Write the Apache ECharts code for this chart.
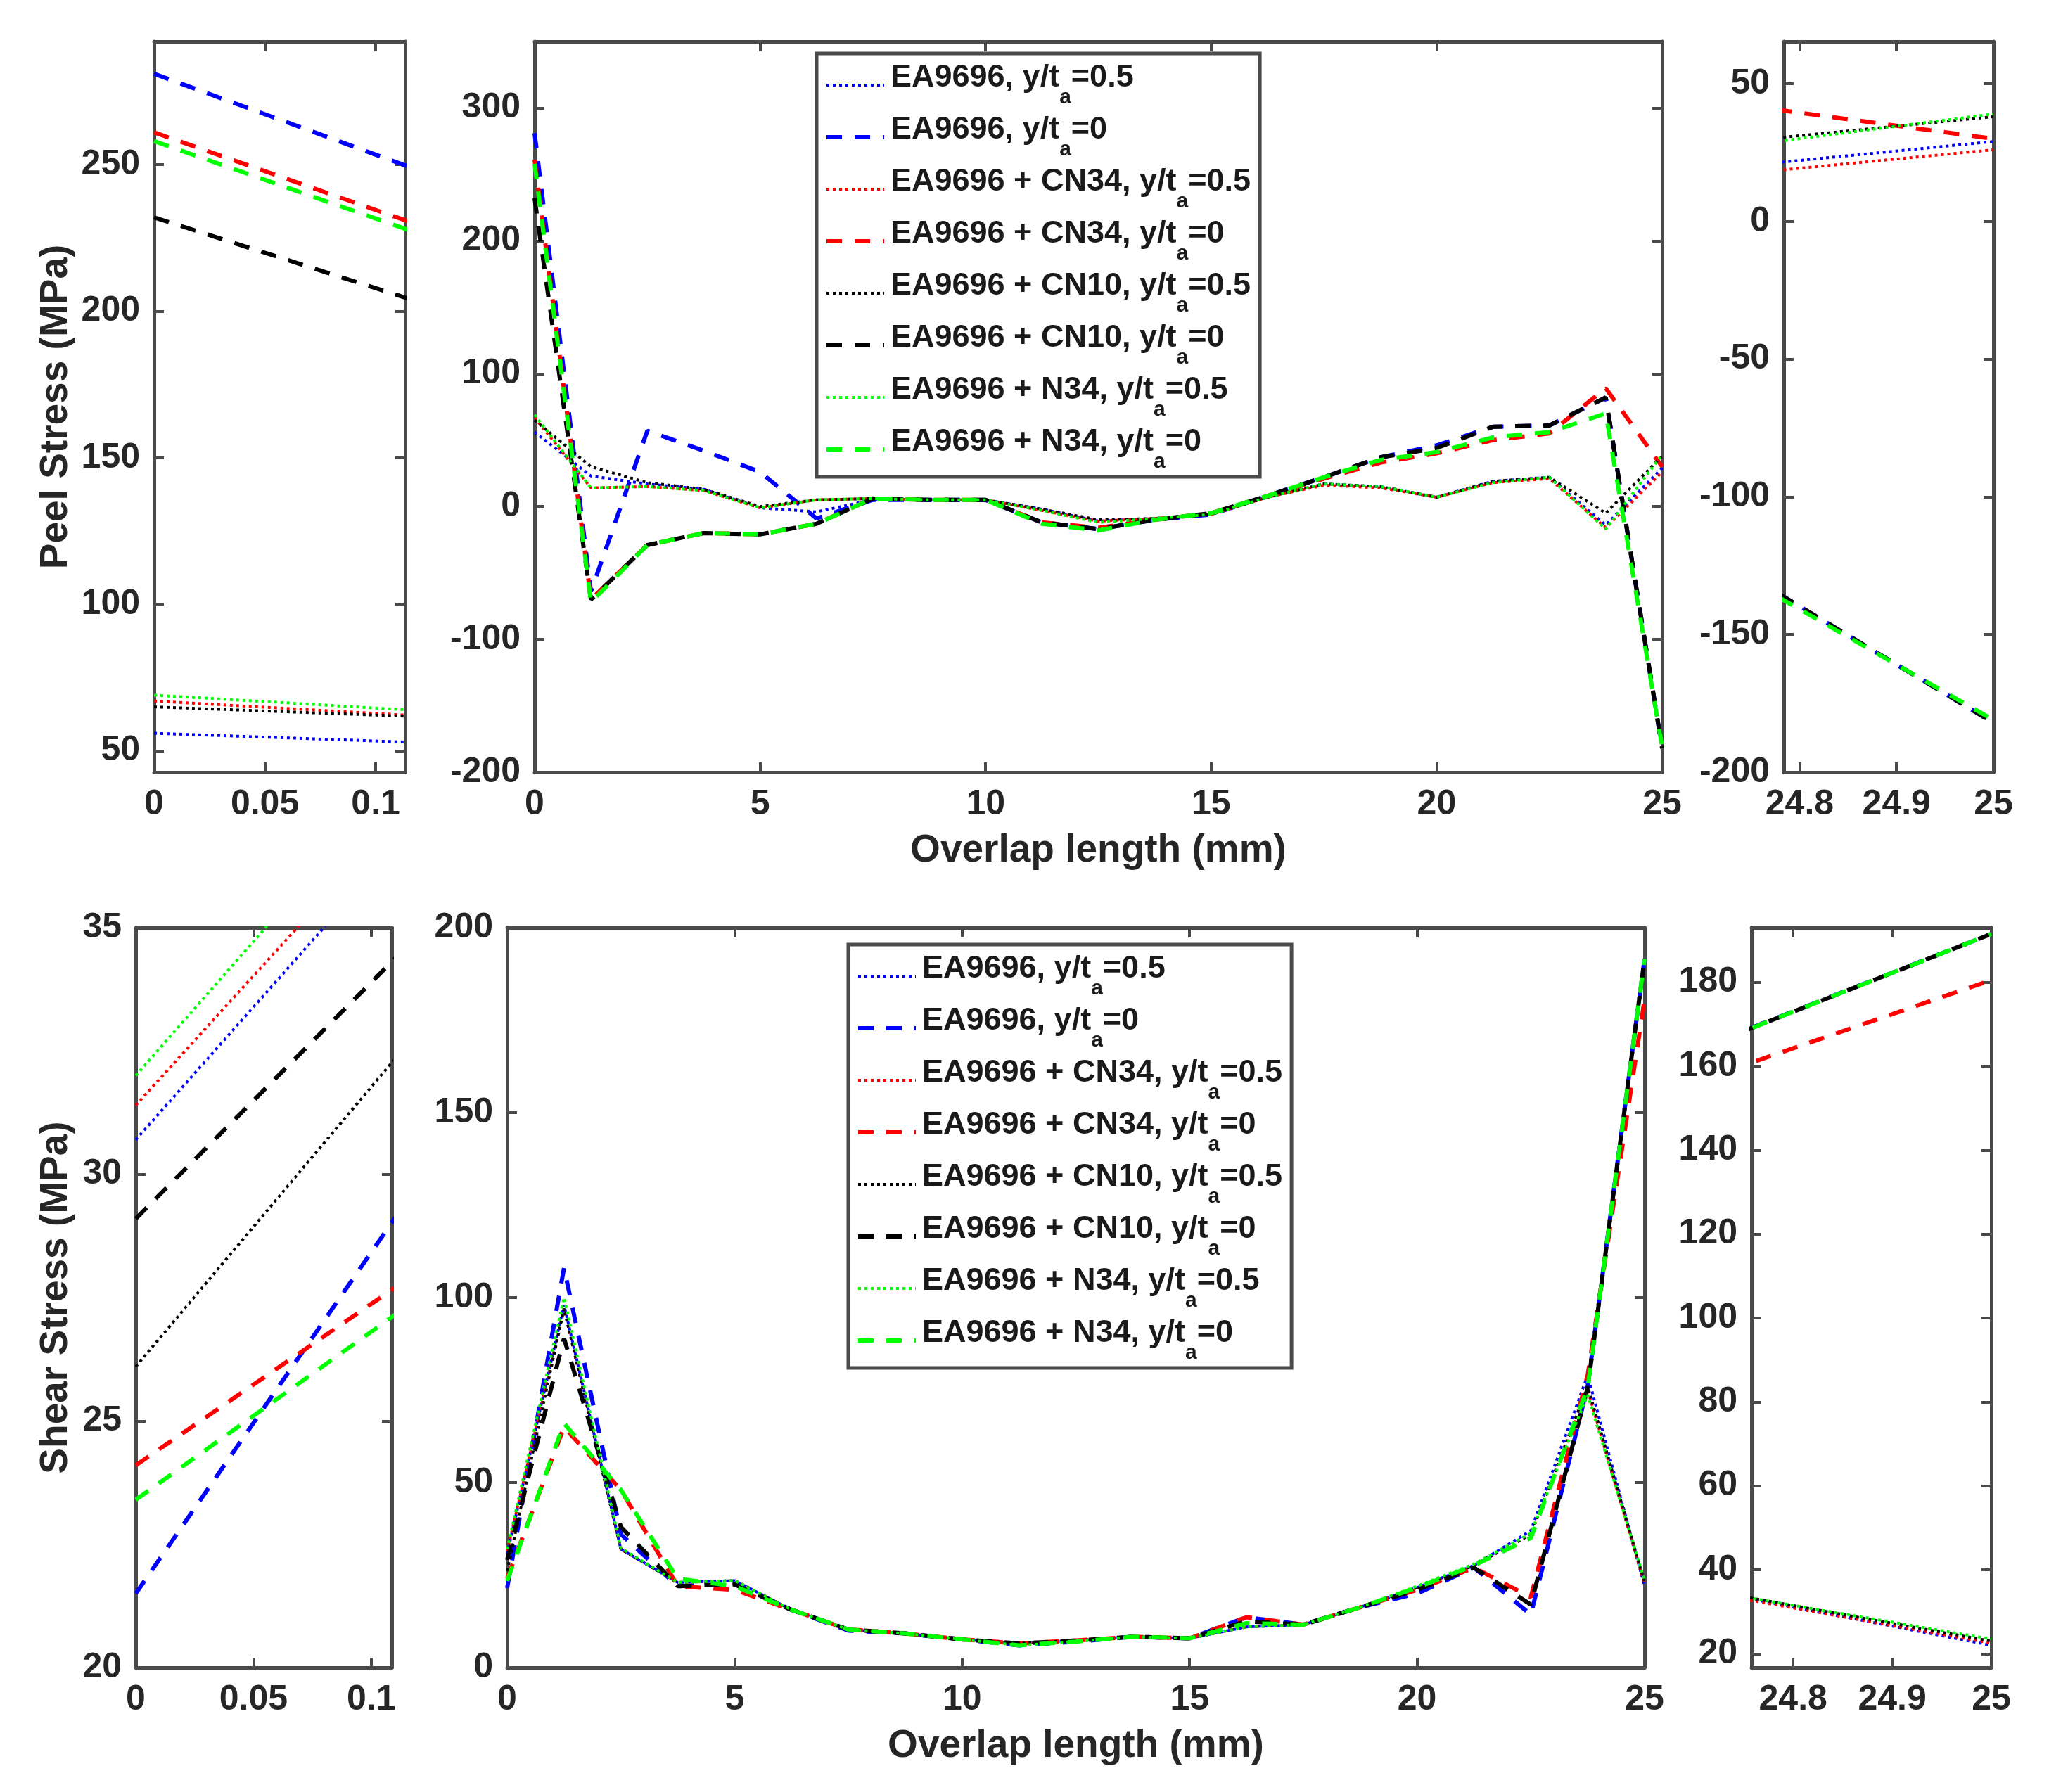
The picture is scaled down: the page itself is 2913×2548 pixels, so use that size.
<!DOCTYPE html>
<html>
<head>
<meta charset="utf-8">
<script src="https://cdn.jsdelivr.net/npm/echarts@6/dist/echarts.min.js"></script>
<style>
  html, body { margin: 0; padding: 0; background: #fff; }
  #stress { width: 2913px; height: 2548px; }
</style>
</head>
<body>
<div id="stress"></div>
<script>
// nodes along the overlap (mm)
const xNodes = [0, 1.25, 2.5, 3.75, 5, 6.25, 7.5, 8.75, 10, 11.25, 12.5, 13.75, 15, 16.25, 17.5, 18.75, 20, 21.25, 22.5, 23.75, 25]

const seriesNames = [
  'EA9696, y/ta=0.5', 'EA9696, y/ta=0',
  'EA9696 + CN34, y/ta=0.5', 'EA9696 + CN34, y/ta=0',
  'EA9696 + CN10, y/ta=0.5', 'EA9696 + CN10, y/ta=0',
  'EA9696 + N34, y/ta=0.5', 'EA9696 + N34, y/ta=0'
]
const labelHead = ['EA9696, y/t', 'EA9696, y/t', 'EA9696 + CN34, y/t', 'EA9696 + CN34, y/t',
  'EA9696 + CN10, y/t', 'EA9696 + CN10, y/t', 'EA9696 + N34, y/t', 'EA9696 + N34, y/t']
const labelTail = ['=0.5', '=0', '=0.5', '=0', '=0.5', '=0', '=0.5', '=0']
const seriesColors = ['#0000ff', '#0000ff', '#ff0000', '#ff0000', '#000000', '#000000', '#00ff00', '#00ff00']
const seriesDash = ['dot', 'dash', 'dot', 'dash', 'dot', 'dash', 'dot', 'dash']

// peel stress (MPa)
const peelBlueDot   = [56, 23, 17, 13, -1, -4, 5, 5, 5, -2, -11, -9, -6, 7, 17, 15, 7, 19, 22, -14, 29]
const peelBlueDash  = [281, -64, 57, 42, 26, -9, 5, 5, 5, -12, -17, -10, -6, 8, 22, 37, 46, 60, 61, 82, -182]
const peelRedDot    = [67, 14, 15, 12, -1, 5, 6, 5, 5, -3, -11, -9, -6, 7, 16, 14, 7, 18, 21, -16, 26]
const peelRedDash   = [261, -70, -29, -20, -21, -13, 6, 5, 5, -12, -16, -10, -5, 8, 21, 33, 40, 50, 55, 89, 30]
const peelBlackDot  = [65, 30, 18, 13, 0, 5, 6, 5, 5, -2, -10, -9, -6, 7, 17, 15, 7, 19, 22, -5, 38]
const peelBlackDash = [232, -70, -29, -20, -21, -13, 6, 5, 5, -12, -17, -10, -5, 8, 22, 37, 44, 60, 61, 82, -182]
const peelGreenDot  = [69, 14, 15, 12, -1, 5, 6, 5, 5, -3, -12, -9, -6, 7, 17, 15, 7, 18, 22, -17, 39]
const peelGreenDash = [258, -72, -29, -20, -21, -13, 6, 5, 5, -13, -18, -10, -5, 8, 22, 35, 41, 52, 56, 70, -181]

// shear stress (MPa)
const shearBlueDot   = [30.7, 98, 32, 23, 23.5, 15.6, 10.3, 9.2, 7.6, 6.5, 7.3, 8.3, 7.9, 11, 11.6, 16.3, 21.6, 27.6, 37, 79, 22]
const shearBlueDash  = [21.5, 108, 36, 22, 22.5, 15.6, 10, 9.2, 7.6, 6, 7, 8.3, 7.9, 13.6, 11.6, 16.3, 20, 27, 14.3, 76, 191.5]
const shearRedDot    = [31.4, 97, 32, 23, 23.5, 15.6, 10.3, 9.2, 7.6, 6.5, 7.3, 8.3, 7.9, 11, 11.6, 16.3, 21.6, 27.6, 36, 75, 22.5]
const shearRedDash   = [24.1, 65, 48, 22, 21, 15.6, 10.3, 9.2, 7.6, 6.5, 7.3, 8.3, 7.9, 13.6, 11.6, 16.3, 21, 27, 19, 79, 180.5]
const shearBlackDot  = [26.1, 97, 32, 23, 23.5, 15.6, 10.3, 9.2, 7.6, 6.5, 7.3, 8.3, 7.9, 11, 11.6, 16.3, 21.6, 27.6, 36, 76, 23]
const shearBlackDash = [29.1, 89, 38, 22, 22.5, 15.6, 10.3, 9.2, 7.6, 6.5, 7.3, 8.3, 7.9, 12.5, 11.6, 16.3, 21, 27, 17, 75.6, 191.5]
const shearGreenDot  = [32, 100, 32.3, 23, 23.5, 15.6, 10.3, 9.2, 7.6, 6, 7, 8.3, 7.9, 11, 11.6, 16.3, 22, 28, 36.3, 73.7, 23.5]
const shearGreenDash = [23.4, 66, 48, 24, 22, 15.6, 10.3, 9.2, 7.6, 6, 7, 8.3, 7.9, 12, 11.6, 16.3, 21.6, 27.6, 35, 75.6, 191.5]

// tick labels
const insetLeftTicks = [0, 0.05, 0.1]
const insetRightTicks = [24.8, 24.9, 25]
const mainXTicks = [0, 5, 10, 15, 20, 25]
const peelLeftYTicks = [50, 100, 150, 200, 250]
const peelMainYTicks = [-200, -100, 0, 100, 200, 300]
const peelRightYTicks = [-200, -150, -100, -50, 0, 50]
const shearLeftYTicks = [20, 25, 30, 35]
const shearMainYTicks = [0, 50, 100, 150, 200]
const shearRightYTicks = [20, 40, 60, 80, 100, 120, 140, 160, 180]

const peelSets = [peelBlueDot, peelBlueDash, peelRedDot, peelRedDash, peelBlackDot, peelBlackDash, peelGreenDot, peelGreenDash]
const shearSets = [shearBlueDot, shearBlueDash, shearRedDot, shearRedDash, shearBlackDot, shearBlackDash, shearGreenDot, shearGreenDash]

const FONT = "'Liberation Sans', Arial, sans-serif"
const AXIS_COLOR = '#4a4a4a'
const TEXT_COLOR = '#262626'

const panels = [
  // top row: peel
  { grid: { left: 219, top: 59, width: 357, height: 1039 }, x: [0, 0.1133], xt: insetLeftTicks, y: [42.7, 292], yt: peelLeftYTicks, sets: peelSets, yName: 'Peel Stress (MPa)', yGap: 112 },
  { grid: { left: 760, top: 59, width: 1603, height: 1039 }, x: [0, 25], xt: mainXTicks, y: [-200, 350], yt: peelMainYTicks, sets: peelSets, xName: 'Overlap length (mm)' },
  { grid: { left: 2536, top: 59, width: 298, height: 1039 }, x: [24.7837, 25], xt: insetRightTicks, y: [-200, 65.3], yt: peelRightYTicks, sets: peelSets },
  // bottom row: shear
  { grid: { left: 193, top: 1319, width: 364, height: 1052 }, x: [0, 0.1087], xt: insetLeftTicks, y: [20, 35], yt: shearLeftYTicks, sets: shearSets, yName: 'Shear Stress (MPa)', yGap: 86 },
  { grid: { left: 721, top: 1319, width: 1617, height: 1052 }, x: [0, 25], xt: mainXTicks, y: [0, 200], yt: shearMainYTicks, sets: shearSets, xName: 'Overlap length (mm)' },
  { grid: { left: 2490, top: 1319, width: 341, height: 1052 }, x: [24.758, 25], xt: insetRightTicks, y: [16.7, 193], yt: shearRightYTicks, sets: shearSets }
]

function fmt (v) {
  return String(+v.toFixed(3))
}

function axis (gi, range, ticks, pos, withLabel, name, gap) {
  const a = {
    type: 'value',
    gridIndex: gi,
    min: range[0],
    max: range[1],
    position: pos,
    axisLine: { show: true, onZero: false, lineStyle: { color: AXIS_COLOR, width: 5 } },
    axisTick: { show: true, inside: true, length: 14, customValues: ticks, lineStyle: { color: AXIS_COLOR, width: 4 } },
    axisLabel: {
      show: withLabel, customValues: ticks, formatter: fmt,
      margin: (pos === 'left') ? 20 : 21,
      fontSize: 50, fontWeight: 'bold', fontFamily: FONT, color: TEXT_COLOR
    },
    splitLine: { show: false }
  }
  if (name) {
    a.name = name
    a.nameLocation = 'middle'
    a.nameGap = gap
    a.nameTextStyle = { fontSize: 55, fontWeight: 'bold', fontFamily: FONT, color: TEXT_COLOR }
  }
  return a
}

const grids = []
const xAxes = []
const yAxes = []
const series = []

panels.forEach((p, gi) => {
  grids.push(Object.assign({ containLabel: false }, p.grid))
  const xi = xAxes.length
  const yi = yAxes.length
  xAxes.push(axis(gi, p.x, p.xt, 'bottom', true, p.xName, 84))
  xAxes.push(axis(gi, p.x, p.xt, 'top', false))
  yAxes.push(axis(gi, p.y, p.yt, 'left', true, p.yName, p.yGap))
  yAxes.push(axis(gi, p.y, p.yt, 'right', false))
  p.sets.forEach((vals, k) => {
    const dashed = seriesDash[k] === 'dash'
    series.push({
      name: seriesNames[k],
      type: 'line',
      xAxisIndex: xi,
      yAxisIndex: yi,
      data: xNodes.map((x, i) => [x, vals[i]]),
      symbol: 'none',
      clip: true,
      silent: true,
      itemStyle: { color: seriesColors[k] },
      lineStyle: {
        color: seriesColors[k],
        width: dashed ? 6 : 4,
        type: dashed ? [22, 18] : [4, 5]
      }
    })
  })
})

function legendText (name) {
  const k = seriesNames.indexOf(name)
  return '{m|' + labelHead[k] + '}{s|a}{m|' + labelTail[k] + '}{h| }'
}

function legendBox (left, top) {
  return {
    data: seriesNames,
    orient: 'vertical',
    left: left,
    top: top,
    padding: [12, 12, 6, 11],
    itemGap: 8,
    itemWidth: 82,
    itemHeight: 14,
    backgroundColor: '#fff',
    borderColor: AXIS_COLOR,
    borderWidth: 5,
    selectedMode: false,
    formatter: legendText,
    itemStyle: { opacity: 0 },
    lineStyle: { width: 'inherit' },
    textStyle: {
      padding: [0, 0, 0, 4],
      rich: {
        m: { fontSize: 45, fontWeight: 'bold', fontFamily: FONT, color: '#1a1a1a', lineHeight: 45, verticalAlign: 'top' },
        s: { fontSize: 30, fontWeight: 'bold', fontFamily: FONT, color: '#1a1a1a', lineHeight: 30, verticalAlign: 'bottom' },
        h: { fontSize: 4, lineHeight: 66 }
      }
    }
  }
}

const chart = echarts.init(document.getElementById('stress'))
chart.setOption({
  backgroundColor: '#fff',
  animation: false,
  grid: grids,
  xAxis: xAxes,
  yAxis: yAxes,
  legend: [legendBox(1161, 76), legendBox(1206, 1343)],
  series: series
})
</script>
</body>
</html>
